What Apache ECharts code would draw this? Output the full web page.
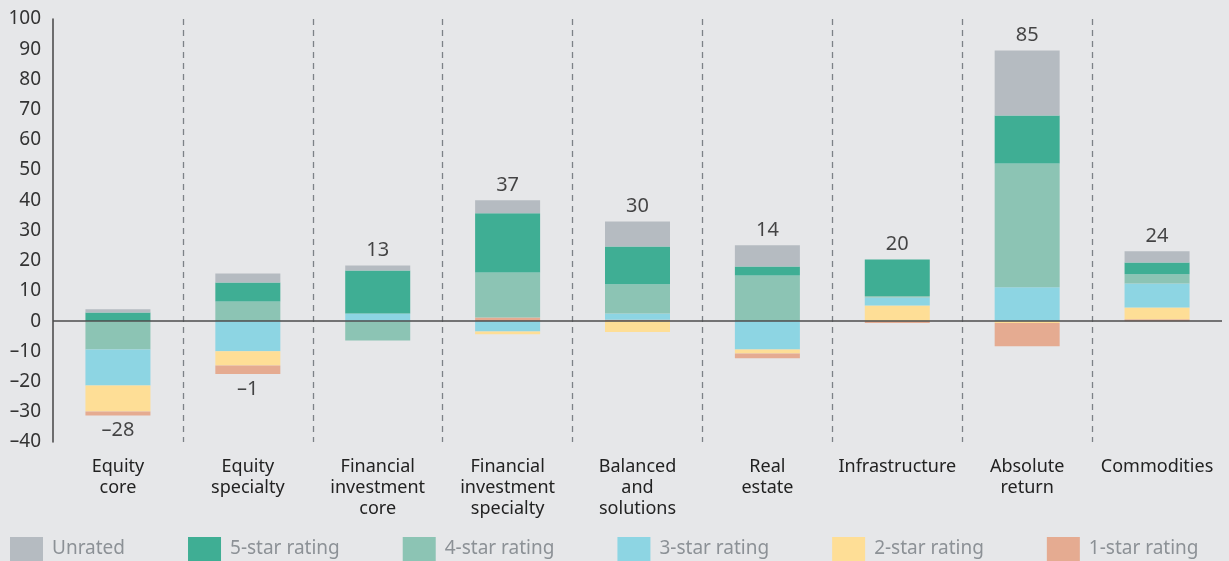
<!DOCTYPE html>
<html>
<head>
<meta charset="utf-8">
<script src="https://cdn.jsdelivr.net/npm/echarts@6/dist/echarts.min.js"></script>
<style>
  html, body { margin: 0; padding: 0; background: #e6e7e9; }
  #main { width: 1229px; height: 561px; }
</style>
</head>
<body>
<div id="main"></div>
<script>
const categories = ['Equity\ncore', 'Equity\nspecialty', 'Financial\ninvestment\ncore', 'Financial\ninvestment\nspecialty',
  'Balanced\nand\nsolutions', 'Real\nestate', 'Infrastructure', 'Absolute\nreturn', 'Commodities']

// stacked values per rating
const unrated = [1.0, 3.0, 1.6, 4.3, 8.3, 7.0, 0, 21.5, 3.7]
const star5 = [2.9, 6.3, 14.3, 19.6, 12.5, 3.0, 12.1, 15.9, 3.9]
const star4 = [-9.4, 6.5, -6.4, 14.9, 9.7, 15.1, 0.5, 41.0, 3.0]
const star3 = [-11.9, -10.0, 2.5, -3.4, 2.0, -9.4, 2.6, 11.2, 8.0]
const star2 = [-8.6, -4.7, 0, -0.9, -3.6, -1.3, 5.2, -0.6, 3.9]
const star1 = [-1.3, -2.8, 0, 1.2, 0.5, -1.6, -0.6, -7.7, 0.6]
const totals = [-28, -1, 13, 37, 30, 14, 20, 85, 24]

const font = '"Noto Sans", "Open Sans", sans-serif'
const dash = v => String(v).replace('-', '\u2013')

// bottom-up order for positive values
const ratings = [
  { name: '1-star rating', data: star1, color: '#e5ab91' },
  { name: '2-star rating', data: star2, color: '#fede96' },
  { name: '3-star rating', data: star3, color: '#8dd5e3' },
  { name: '4-star rating', data: star4, color: '#8cc4b4' },
  { name: '5-star rating', data: star5, color: '#3fae94' },
  { name: 'Unrated', data: unrated, color: '#b5bbc1' },
]

const barSeries = (r, keep) => ({
  name: r.name,
  type: 'bar',
  stack: 'total',
  barWidth: 65,
  itemStyle: { color: r.color },
  data: r.data.map(v => keep(v) ? v : '-'),
})

const posSeries = ratings.map(r => barSeries(r, v => v > 0))
// negatives: highest rating sits next to zero
const negSeries = ratings.slice().reverse().map(r => barSeries(r, v => v < 0))

const posSum = categories.map((c, i) => ratings.reduce((s, r) => s + Math.max(r.data[i], 0), 0))
const negSum = categories.map((c, i) => ratings.reduce((s, r) => s + Math.min(r.data[i], 0), 0))

let myChart = echarts.init(document.getElementById('main'))
let option = {
  backgroundColor: '#e6e7e9',
  animation: false,
  textStyle: { fontFamily: font },
  grid: { left: 53, right: 7, top: 19, bottom: 119 },
  legend: {
    data: ['Unrated', '5-star rating', '4-star rating', '3-star rating', '2-star rating', '1-star rating'],
    left: 10,
    top: 537,
    padding: 0,
    icon: 'rect',
    itemWidth: 33,
    itemHeight: 24,
    itemGap: 63,
    textStyle: { color: '#8c9196', fontSize: 19, fontFamily: font, padding: [0, 0, 0, 4] },
  },
  xAxis: {
    type: 'category',
    data: categories,
    axisLine: { show: false, onZero: false },
    axisTick: { show: false },
    axisLabel: { color: '#222', fontSize: 18, lineHeight: 21, margin: 14, interval: 0, fontFamily: font },
    splitLine: {
      show: true,
      showMinLine: false,
      showMaxLine: false,
      lineStyle: { color: '#7d8287', type: [6, 5], width: 1.3 },
    },
  },
  yAxis: {
    type: 'value',
    min: -40,
    max: 100,
    interval: 10,
    axisLine: { show: true, lineStyle: { color: '#444', width: 1.5 } },
    axisTick: { show: false },
    splitLine: { show: false },
    axisLabel: { color: '#333', fontSize: 19, margin: 12, formatter: dash, fontFamily: font },
  },
  series: [
    ...posSeries,
    ...negSeries,
    {
      type: 'scatter',
      symbolSize: 0,
      z: 10,
      silent: true,
      data: totals.map((t, i) => ({
        value: [i, t >= 0 ? posSum[i] : negSum[i]],
        label: { position: t >= 0 ? 'top' : 'bottom' },
      })),
      label: {
        show: true,
        distance: 5,
        color: '#1a1a1a',
        fontSize: 20,
        fontFamily: font,
        formatter: p => dash(totals[p.dataIndex]),
      },
      markLine: {
        silent: true,
        symbol: 'none',
        label: { show: false },
        lineStyle: { color: '#4d4d4d', width: 1.5, type: 'solid' },
        data: [{ yAxis: 0 }],
      },
    },
  ],
}
myChart.setOption(option)
</script>
</body>
</html>
